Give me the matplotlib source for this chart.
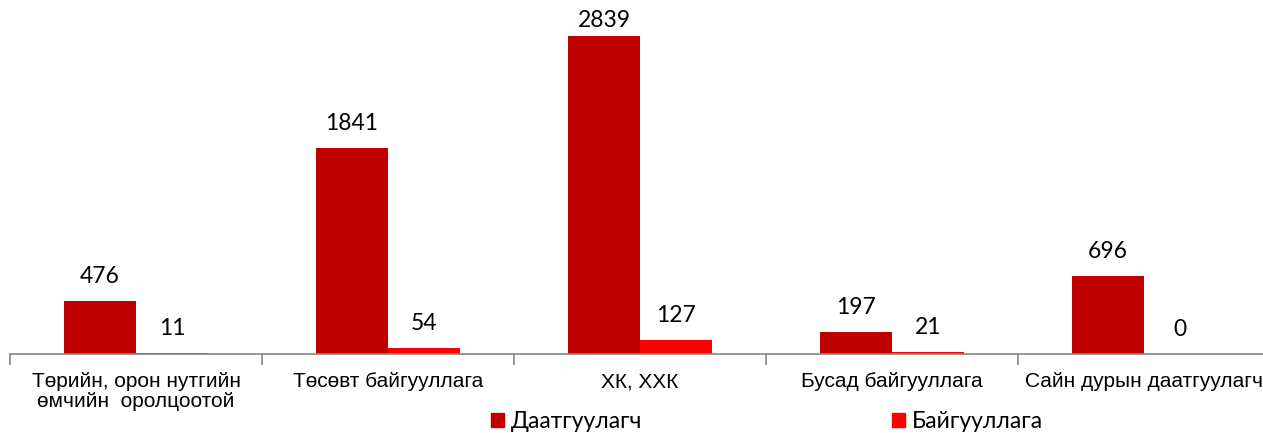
import matplotlib
matplotlib.use("Agg")
import matplotlib.pyplot as plt
import numpy as np
from matplotlib.patches import Patch

categories = ["Төрийн, орон нутгийн\nөмчийн  оролцоотой", "Төсөвт байгууллага", "ХК, ХХК",
              "Бусад байгууллага", "Сайн дурын даатгуулагч"]
series_names = ["Даатгуулагч", "Байгууллага"]
insured = [476, 1841, 2839, 197, 696]
organizations = [11, 54, 127, 21, 0]

colors = ["#C00000", "#FF0000"]

plt.rcParams['font.family'] = ['Liberation Sans', 'DejaVu Sans']

W, H = 1263, 433
fig = plt.figure(figsize=(W / 100, H / 100), dpi=100)
ax = fig.add_axes([10 / W, (H - 354) / H, 1260 / W, 354 / H])

x = np.arange(len(categories))
bw = 72 / 252
b1 = ax.bar(x - bw / 2, insured, bw, color=colors[0])
b2 = ax.bar(x + bw / 2, organizations, bw, color=colors[1])

labels = []
for bars, vals in ((b1, insured), (b2, organizations)):
    for r, v in zip(bars, vals):
        t = ax.annotate(str(v), (r.get_x() + r.get_width() / 2, r.get_height()),
                        xytext=(0, 14), textcoords="offset pixels", ha="center", va="bottom",
                        fontsize=16.5, color="#000000", family=['Lato', 'DejaVu Sans'],
                        annotation_clip=False)
        labels.append(t)

ax.set_xlim(-0.5, len(categories) - 0.5)
ax.set_ylim(0, 3160)
ax.set_yticks([])
for s in ("top", "right", "left"):
    ax.spines[s].set_visible(False)
ax.spines["bottom"].set_color("#868686")
ax.spines["bottom"].set_linewidth(1.2)

ax.set_xticks(x)
ax.set_xticklabels(categories, fontsize=15, linespacing=1.05)
ax.tick_params(axis="x", which="major", length=0, pad=13)
ax.set_xticks(np.arange(len(categories) + 1) - 0.5, minor=True)
ax.tick_params(axis="x", which="minor", length=8, color="#868686", width=1.2)

handles = [Patch(color=colors[0]), Patch(color=colors[1])]
fig.legend(handles, series_names, loc="center", bbox_to_anchor=(767 / W, (H - 422) / H),
           ncol=2, frameon=False, handlelength=0.55, handleheight=0.55,
           handletextpad=0.3, columnspacing=10.9, borderaxespad=0,
           prop={'family': ['Lato', 'DejaVu Sans'], 'size': 16.5})

# keep data labels inside the figure (as the original chart does)
fig.canvas.draw()
renderer = fig.canvas.get_renderer()
for t in labels:
    bb = t.get_window_extent(renderer)
    limit = H - 10
    if bb.y1 > limit:
        ox, oy = t.xyann
        t.xyann = (ox, oy - (bb.y1 - limit))

fig.savefig("out.png", dpi=100)
